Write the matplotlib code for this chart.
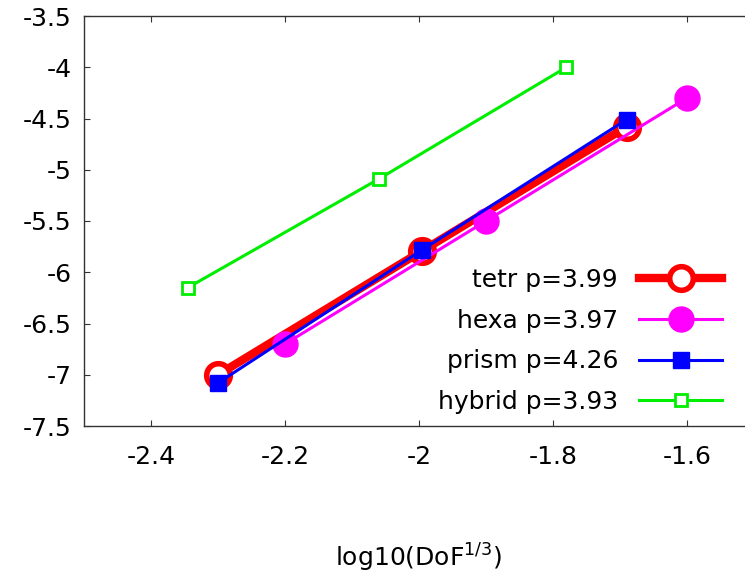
import numpy as np
import matplotlib.pyplot as plt

plt.rcParams['font.family'] = ['DejaVu Sans']

# --- data ------------------------------------------------------------------
tetr_x = [-2.30, -1.995, -1.69]
tetr_y = [-7.00, -5.79, -4.58]

hexa_x = [-2.20, -1.90, -1.60]
hexa_y = [-6.70, -5.50, -4.30]

prism_x = [-2.30, -1.995, -1.69]
prism_y = [-7.08, -5.78, -4.51]

hybrid_x = [-2.345, -2.06, -1.78]
hybrid_y = [-6.15, -5.09, -4.00]

labels = ["tetr p=3.99", "hexa p=3.97", "prism p=4.26", "hybrid p=3.93"]
xticks = [-2.4, -2.2, -2.0, -1.8, -1.6]
yticks = [-3.5, -4, -4.5, -5, -5.5, -6, -6.5, -7, -7.5]

# ---------------------------------------------------------------------------
FS = 18

fig = plt.figure(figsize=(7.45, 5.83), dpi=100)
ax = fig.add_axes([84 / 745, 1 - 426 / 583, 670 / 745, 410 / 583])

ax.plot(tetr_x, tetr_y, color="#ff0000", lw=6, marker="o", ms=17,
        mfc="white", mec="#ff0000", mew=4, label=labels[0])
ax.plot(hexa_x, hexa_y, color="#ff00ff", lw=2.2, marker="o", ms=18,
        mfc="#ff00ff", mec="#ff00ff", label=labels[1])
ax.plot(prism_x, prism_y, color="#0000ff", lw=2.2, marker="s", ms=11,
        mfc="#0000ff", mec="#0000ff", label=labels[2])
ax.plot(hybrid_x, hybrid_y, color="#00ee00", lw=2.2, marker="s", ms=8,
        mfc="white", mec="#00ee00", mew=2, label=labels[3])

ax.set_xlim(-2.5, -1.5)
ax.set_ylim(-7.5, -3.5)
ax.set_xticks(xticks)
ax.set_xticklabels(["-2.4", "-2.2", "-2", "-1.8", "-1.6"])
ax.set_yticks(yticks)
ax.set_yticklabels(["-3.5", "-4", "-4.5", "-5", "-5.5", "-6", "-6.5", "-7", "-7.5"])

ax.tick_params(direction="in", length=4, width=0.8, labelsize=FS,
               top=True, right=True, colors="#333333", labelcolor="black")
ax.tick_params(axis="x", pad=14)
ax.tick_params(axis="y", pad=9)
for s in ax.spines.values():
    s.set_linewidth(1.0)
    s.set_color("#333333")

ax.set_xlabel("log10(DoF$^{1/3}$)", fontsize=FS, labelpad=52)

ax.legend(loc="lower right", bbox_to_anchor=(0.952, 0.029), frameon=False,
          markerfirst=False, fontsize=FS, handlelength=3.3,
          labelspacing=0.67, handletextpad=0.85, borderaxespad=0.0,
          borderpad=0.0)

plt.savefig("out.png", dpi=100)
